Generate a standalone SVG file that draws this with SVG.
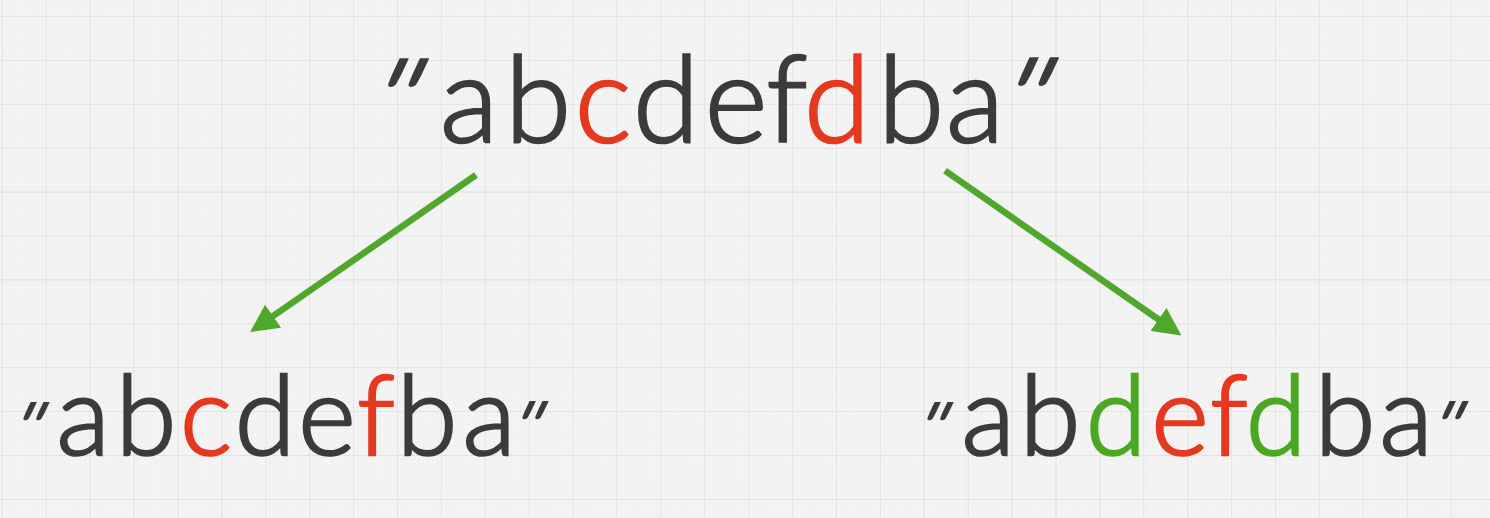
<svg xmlns="http://www.w3.org/2000/svg" width="1490" height="518" viewBox="0 0 1490 518">
<defs>
<pattern id="minor" x="1.9" y="16" width="4.39" height="4.39" patternUnits="userSpaceOnUse">
<path d="M0,0 V4.39 M0,0 H4.39" stroke="#ebebeb" stroke-width="0.6" fill="none"/>
</pattern>
<pattern id="major" x="1.9" y="16" width="43.9" height="43.9" patternUnits="userSpaceOnUse">
<path d="M0,0 V43.9 M0,0 H43.9" stroke="#e3e3e3" stroke-width="1.8" fill="none"/>
</pattern>
<marker id="head" viewBox="0 0 28 28" refX="1" refY="14" markerWidth="28" markerHeight="28" markerUnits="userSpaceOnUse" orient="auto">
<path d="M0,0 L28,14 L0,28 Z" fill="#4fa82b"/>
</marker>
<style>
.t{font-family:Lato,"Noto Sans","Liberation Sans",sans-serif;font-weight:300;fill:#3b3b3b;stroke:#3b3b3b;stroke-width:2.6;text-anchor:middle}
.q{font-family:Lato,"Noto Sans","Liberation Sans",sans-serif;font-weight:300;fill:#3b3b3b;stroke:#3b3b3b;stroke-width:2.6;text-anchor:middle}
.qs{stroke-width:2}
.r{fill:#e5391f;stroke:#e5391f}
.g{fill:#4aa923;stroke:#4aa923}
.arrow{stroke:#4fa82b;stroke-width:6.5;fill:none;marker-end:url(#head)}
</style>
</defs>
<rect width="1490" height="518" fill="#f4f4f4"/>
<rect width="1490" height="518" fill="url(#minor)"/>
<rect width="1490" height="518" fill="url(#major)"/>

<g id="connectors">
<line class="arrow" x1="476" y1="175" x2="272.3" y2="316.7"/>
<line class="arrow" x1="945" y1="170.7" x2="1159.3" y2="320"/>
</g>

<g id="top">
<text class="q" font-size="108" y="64" transform="translate(408,71.5) skewX(-25) scale(1.3,1)">"</text>
<text class="t" font-size="120" y="142"><tspan x="469">a</tspan><tspan x="538">b</tspan><tspan class="r" x="603">c</tspan><tspan x="666">d</tspan><tspan x="736">e</tspan><tspan x="787">f</tspan><tspan class="r" x="837">d</tspan><tspan x="911">b</tspan><tspan x="975">a</tspan></text>
<text class="q" font-size="108" y="64" transform="translate(1038,70.5) skewX(-25) scale(1.3,1)">"</text>
</g>

<g id="left">
<text class="q qs" font-size="68" y="40" transform="translate(36,411) skewX(-25) scale(1.3,1)">"</text>
<text class="t" font-size="110" y="455"><tspan x="83">a</tspan><tspan x="146">b</tspan><tspan class="r" x="206">c</tspan><tspan x="265">d</tspan><tspan x="327">e</tspan><tspan class="r" x="376">f</tspan><tspan x="427">b</tspan><tspan x="489">a</tspan></text>
<text class="q qs" font-size="68" y="40" transform="translate(535,410) skewX(-25) scale(1.3,1)">"</text>
</g>

<g id="right">
<text class="q qs" font-size="68" y="40" transform="translate(940,411) skewX(-25) scale(1.3,1)">"</text>
<text class="t" font-size="110" y="455"><tspan x="988">a</tspan><tspan x="1050">b</tspan><tspan class="g" x="1116">d</tspan><tspan class="r" x="1180">e</tspan><tspan class="r" x="1229">f</tspan><tspan class="g" x="1276">d</tspan><tspan x="1345">b</tspan><tspan x="1406">a</tspan></text>
<text class="q qs" font-size="68" y="40" transform="translate(1455,410) skewX(-25) scale(1.3,1)">"</text>
</g>
</svg>
